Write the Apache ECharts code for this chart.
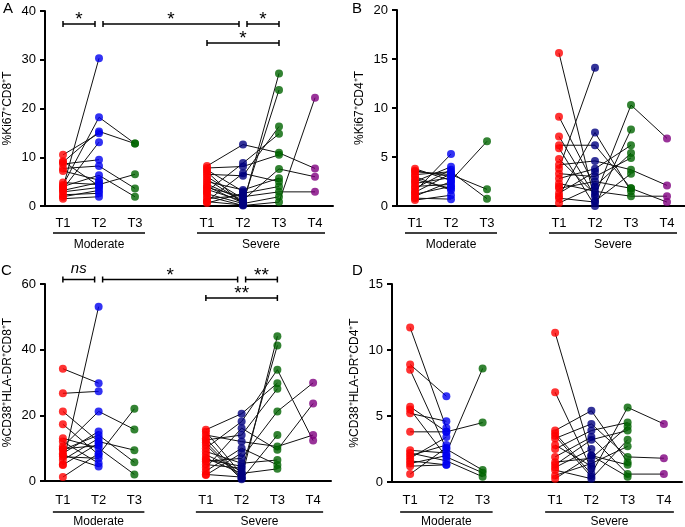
<!DOCTYPE html>
<html>
<head>
<meta charset="utf-8">
<script src="https://cdn.jsdelivr.net/npm/echarts@6/dist/echarts.min.js"></script>
<style>
  html, body { margin: 0; padding: 0; background: #fff; }
  #chart { width: 685px; height: 527px; }
</style>
</head>
<body>
<div id="chart"></div>
<script>
// x slots: three moderate time points, an empty gap, four severe time points
const slots = ["m1", "m2", "m3", "gap", "s1", "s2", "s3", "s4"];
const tickLabels = ["T1", "T2", "T3", "", "T1", "T2", "T3", "T4"];
const modSlots = [0, 1, 2];
const sevSlots = [4, 5, 6, 7];
const groupNames = ["Moderate", "Severe"];
const panelLetters = ["A", "B", "C", "D"];
const yNames = ["%Ki67⁺CD8⁺T", "%Ki67⁺CD4⁺T", "%CD38⁺HLA-DR⁺CD8⁺T", "%CD38⁺HLA-DR⁺CD4⁺T"];
const yMax = [40, 20, 60, 15];
const yStep = [10, 5, 20, 5];

// one row per patient: moderate [T1, T2, T3], severe [T1, T2, T3, T4]
const aModerate = [
  [3.8, 30.3, null], [4.3, 18.2, 12.8], [9.0, 15.3, 12.8], [10.5, 14.9, null],
  [3.5, 13.1, null], [8.6, 9.5, null], [7.7, 8.2, 3.6], [4.0, 6.3, 1.9],
  [7.2, 5.3, null], [4.8, 4.4, 6.5], [2.9, 3.8, null], [2.3, 2.6, null],
  [1.5, 1.9, null], [3.2, 4.8, null], [1.9, 3.2, null], [9.2, 4.1, null]
];
const aSevere = [
  [8.2, 12.6, 10.9, 7.7], [7.0, 0.3, 27.2, null], [5.5, 0.8, 23.8, null], [6.5, 6.2, 16.3, null],
  [3.0, 8.8, 14.8, null], [7.8, 8.1, 10.5, null], [4.5, 1.2, 7.6, 6.0], [2.0, 0.1, 0.8, 22.2],
  [1.0, 6.7, 5.0, null], [5.0, 3.3, 5.7, null], [0.6, 2.6, 4.0, null], [3.8, 1.9, 2.9, 2.9],
  [2.5, 0.5, 1.9, null], [1.5, 2.2, null, null], [6.0, 1.5, null, null], [4.0, 0.6, null, null],
  [7.4, 3.0, null, null], [0.9, 0.2, null, null], [3.4, 1.0, null, null], [2.8, null, null, null]
];
const bModerate = [
  [1.5, 5.3, null], [3.8, 2.6, 6.6], [3.5, 3.2, 1.7], [3.2, 3.5, 0.75],
  [2.5, 4.0, null], [3.0, 1.6, null], [2.3, 2.9, null], [1.8, 3.7, null],
  [2.0, 2.2, null], [1.2, 2.0, null], [1.0, 2.5, null], [0.8, 0.7, null],
  [0.6, 1.1, null], [3.6, 3.0, null], [2.7, 1.8, null], [1.4, 3.3, null]
];
const bSevere = [
  [15.6, 0.5, 3.3, null], [3.8, 14.1, null, null], [9.1, 2.0, 5.4, null], [1.0, 7.5, 1.5, null],
  [7.1, 1.0, 10.3, 6.9], [6.2, 6.2, 1.8, null], [5.9, 0.0, 7.8, null], [4.2, 4.6, 3.7, 2.1],
  [3.3, 3.0, 4.9, null], [2.8, 3.8, 6.2, null], [2.3, 1.5, 1.0, 1.0], [1.8, 2.5, 1.8, 0.4],
  [1.3, 3.5, null, null], [0.8, 0.4, null, null], [0.3, 2.0, null, null], [4.8, 1.2, null, null],
  [2.0, null, null, null]
];
const cModerate = [
  [34.2, 29.8, null], [26.7, 27.3, null], [21.2, 12.0, 9.4], [17.3, 8.0, 22.0],
  [13.0, 10.0, 2.0], [5.0, 53.1, null], [10.5, 21.2, 15.7], [9.5, 14.0, 5.7],
  [8.4, 15.1, null], [7.4, 6.9, null], [6.4, 13.0, null], [4.9, 11.5, null],
  [1.2, 8.4, null], [12.0, 5.4, null], [8.0, 4.4, null], [9.8, 10.8, null]
];
const cSevere = [
  [15.6, 20.5, 29.8, null], [13.0, 1.0, 44.1, null], [8.0, 3.0, 41.3, null], [10.0, 18.1, 33.9, 12.3],
  [12.5, 14.0, 28.1, null], [6.0, 6.9, 21.2, 29.9], [4.0, 16.1, 9.5, 23.6], [14.0, 12.0, 10.5, 14.0],
  [11.0, 0.5, 14.0, null], [9.0, 5.4, 6.4, null], [3.0, 10.0, 4.9, null], [7.0, 2.3, 3.7, null],
  [2.0, 1.2, null, null], [5.0, 3.9, null, null], [1.8, 8.5, null, null], [11.8, 0.8, null, null],
  [6.5, 4.5, null, null], [15.0, 2.0, null, null]
];
const dModerate = [
  [11.7, 4.1, null], [8.9, 6.5, null], [8.5, 2.5, 0.9], [5.7, 3.8, 4.5],
  [5.5, 1.9, 0.7], [5.2, 4.6, null], [3.8, 3.8, null], [2.4, 2.2, 8.6],
  [2.2, 1.6, 0.4], [2.0, 2.8, null], [1.8, 3.4, null], [1.6, 1.3, null],
  [1.4, 2.0, null], [1.2, 1.3, null], [0.6, 2.6, null]
];
const dSevere = [
  [11.3, 2.0, 1.3, null], [6.8, 1.0, null, null], [3.9, 5.4, 1.5, null], [3.7, 0.6, 5.65, 4.4],
  [3.3, 4.4, 1.9, 1.8], [2.5, 3.9, 4.5, null], [1.9, 3.4, 0.6, 0.6], [1.5, 1.8, 4.2, null],
  [1.3, 3.2, 3.9, null], [0.9, 0.25, 3.2, null], [0.5, 1.4, 2.7, null], [0.25, 2.0, 0.4, null],
  [2.8, 1.2, null, null], [3.5, 0.4, null, null], [1.1, 2.5, null, null]
];

// significance brackets: [from slot, to slot, label, row]
const sigA = [[0, 1, "*", 0], [1, 5, "*", 0], [5, 6, "*", 0], [4, 6, "*", 1]];
const sigC = [[0, 1, "ns", 0], [1, 5, "*", 0], [5, 6, "**", 0], [4, 6, "**", 1]];

const slotColors = ["#ff0000", "#0000f0", "#006400", null, "#ff0000", "#00007f", "#006400", "#800080"];
const font = "Liberation Sans, Arial, sans-serif";

const panels = [
  { mod: aModerate, sev: aSevere, sig: sigA, rows: [13, 32], grid: { left: 45, top: 11, width: 288, height: 195 }, lblMargin: 11, grpLine: 27, grpText: 39, letter: [3, 1] },
  { mod: bModerate, sev: bSevere, sig: null, rows: null, grid: { left: 397, top: 10, width: 288, height: 196 }, lblMargin: 11, grpLine: 27, grpText: 39, letter: [352, 1] },
  { mod: cModerate, sev: cSevere, sig: sigC, rows: [-4.5, 14], grid: { left: 45, top: 284, width: 286, height: 197 }, lblMargin: 13, grpLine: 31, grpText: 41, letter: [1, 263] },
  { mod: dModerate, sev: dSevere, sig: null, rows: null, grid: { left: 392, top: 284, width: 290, height: 198 }, lblMargin: 12, grpLine: 30, grpText: 40, letter: [352, 263] }
];

const chart = echarts.init(document.getElementById("chart"));

let series = [];
panels.forEach((p, i) => {
  const pts = [];
  const addPatient = (vals, idx) => {
    const line = [];
    vals.forEach((v, k) => {
      if (v == null) return;
      line.push([idx[k], v]);
      pts.push({ value: [idx[k], v], itemStyle: { color: slotColors[idx[k]] } });
    });
    if (line.length > 1) {
      series.push({
        type: "line", xAxisIndex: i, yAxisIndex: i, data: line,
        symbol: "none", showSymbol: false, silent: true, z: 2,
        lineStyle: { color: "#111", width: 1 }
      });
    }
  };
  p.mod.forEach(r => addPatient(r, modSlots));
  p.sev.forEach(r => addPatient(r, sevSlots));
  series.push({ type: "scatter", xAxisIndex: i, yAxisIndex: i, data: pts, symbolSize: 8, z: 3, silent: true });
});

let option = {
  animation: false,
  textStyle: { fontFamily: font },
  grid: panels.map(p => p.grid),
  xAxis: panels.map((p, i) => ({
    type: "category",
    gridIndex: i,
    data: slots,
    boundaryGap: true,
    axisLine: { lineStyle: { color: "#000", width: 2 } },
    axisTick: {
      alignWithLabel: true,
      length: 6,
      interval: idx => tickLabels[idx] !== "",
      lineStyle: { color: "#000", width: 2 }
    },
    axisLabel: {
      interval: 0,
      margin: p.lblMargin,
      color: "#000",
      fontSize: 13,
      formatter: (v, idx) => tickLabels[idx]
    }
  })),
  yAxis: panels.map((p, i) => ({
    type: "value",
    gridIndex: i,
    min: 0,
    max: yMax[i],
    interval: yStep[i],
    name: yNames[i],
    nameLocation: "middle",
    nameGap: 31,
    nameTextStyle: { color: "#000", fontSize: 12 },
    splitLine: { show: false },
    axisLine: { show: true, lineStyle: { color: "#000", width: 2 } },
    axisTick: { show: true, length: 5, lineStyle: { color: "#000", width: 2 } },
    axisLabel: { color: "#000", fontSize: 13, margin: 9 }
  })),
  series: series
};
chart.setOption(option);

// group underlines, group names, brackets and panel letters
let graphic = [];
panels.forEach((p, i) => {
  const px = k => chart.convertToPixel({ xAxisIndex: i }, k);
  const axisY = p.grid.top + p.grid.height;
  [modSlots, sevSlots].forEach((g, gi) => {
    const x1 = px(g[0]) - 10;
    const x2 = px(g[g.length - 1]) + 10;
    graphic.push({ type: "line", shape: { x1: x1, y1: axisY + p.grpLine, x2: x2, y2: axisY + p.grpLine }, style: { stroke: "#000", lineWidth: 1.5 } });
    graphic.push({ type: "text", x: (x1 + x2) / 2, y: axisY + p.grpText, style: { text: groupNames[gi], font: "12px " + font, fill: "#000", align: "center", verticalAlign: "middle" } });
  });
  graphic.push({ type: "text", x: p.letter[0], y: p.letter[1], style: { text: panelLetters[i], font: "15px " + font, fill: "#000", align: "left", verticalAlign: "top" } });
  if (!p.sig) return;
  p.sig.forEach(b => {
    const shares = (s, end) => p.sig.some(o => o !== b && o[3] === b[3] && o[end] === s);
    const trimL = shares(b[0], 1) ? 4 : 0;
    const trimR = shares(b[1], 0) ? 4 : 0;
    const x1 = px(b[0]) + trimL;
    const x2 = px(b[1]) - trimR;
    const y = p.grid.top + p.rows[b[3]];
    graphic.push({ type: "line", shape: { x1: x1, y1: y, x2: x2, y2: y }, style: { stroke: "#000", lineWidth: 1.5 } });
    graphic.push({ type: "line", shape: { x1: x1, y1: y - 3, x2: x1, y2: y + 3 }, style: { stroke: "#000", lineWidth: 1.5 } });
    graphic.push({ type: "line", shape: { x1: x2, y1: y - 3, x2: x2, y2: y + 3 }, style: { stroke: "#000", lineWidth: 1.5 } });
    const isNs = b[2] === "ns";
    graphic.push({
      type: "text", x: (x1 + x2) / 2, y: isNs ? y - 11 : y - 4,
      style: {
        text: b[2], fill: "#000", align: "center", verticalAlign: "middle",
        font: isNs ? "italic 15px " + font : "19px " + font
      }
    });
  });
});
chart.setOption({ graphic: graphic });

window.addEventListener("resize", () => {
  chart.resize();
});
</script>
</body>
</html>
